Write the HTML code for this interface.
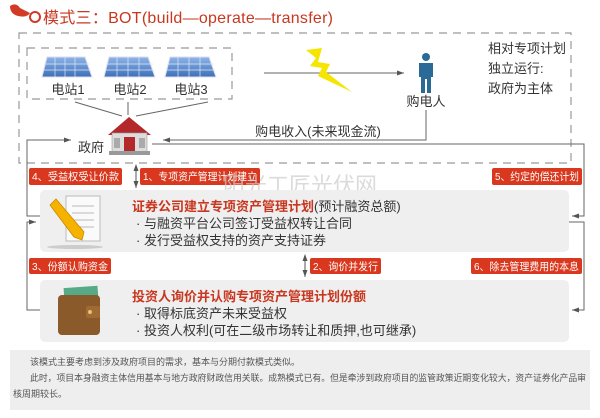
<!DOCTYPE html>
<html><head><meta charset="utf-8"><style>
html,body{margin:0;padding:0;background:#fff}
svg{display:block}
text{font-family:"Liberation Sans","Noto Sans CJK SC",sans-serif}
</style></head><body>
<svg width="600" height="418" viewBox="0 0 600 418" xmlns="http://www.w3.org/2000/svg">
<defs>
<marker id="a" markerWidth="8" markerHeight="8" refX="7" refY="4" orient="auto"><path d="M0,1.5 L7,4 L0,6.5z" fill="#555"/></marker>
<marker id="s" markerWidth="8" markerHeight="8" refX="1" refY="4" orient="auto"><path d="M7,1.5 L0,4 L7,6.5z" fill="#555"/></marker>
<linearGradient id="pv" x1="0" y1="0" x2="0" y2="1"><stop offset="0" stop-color="#8fb5e8"/><stop offset="1" stop-color="#3d6fb8"/></linearGradient>
</defs>
<rect width="600" height="418" fill="#fff"/>
<path d="M10,6 q6,-4 10,2 l10,5 q-3,5 -12,3 q-8,-2 -8,-10z" fill="#d33a25"/>
<circle cx="35" cy="17" r="5" fill="none" stroke="#d33a25" stroke-width="2"/>
<text x="43" y="23" font-size="16" fill="#c8371f" textLength="290">模式三：BOT(build—operate—transfer)</text>
<rect x="19" y="33" width="552" height="130" fill="none" stroke="#999" stroke-width="1.2" stroke-dasharray="8,6"/>
<rect x="27" y="48" width="205" height="51" fill="none" stroke="#999" stroke-width="1.2" stroke-dasharray="8,6"/>
<g>
<polygon points="47,57 85,57 92,77 42,77" fill="url(#pv)" stroke="#dde" stroke-width="1"/>
<polygon points="109,57 148,57 155,77 104,77" fill="url(#pv)" stroke="#dde" stroke-width="1"/>
<polygon points="170,57 209,57 216,77 165,77" fill="url(#pv)" stroke="#dde" stroke-width="1"/>
<path d="M55,57v20M65,57v20M75,57v20M44,64h46M43,70h48M117,57v20M128,57v20M139,57v20M106,64h47M105,70h49M178,57v20M189,57v20M200,57v20M167,64h47M166,70h49" stroke="#dfe9f7" stroke-width="0.7"/>
</g>
<text x="68" y="94" font-size="13" fill="#333" text-anchor="middle">电站1</text>
<text x="130" y="94" font-size="13" fill="#333" text-anchor="middle">电站2</text>
<text x="191" y="94" font-size="13" fill="#333" text-anchor="middle">电站3</text>
<line x1="264" y1="73" x2="404" y2="73" stroke="#666" stroke-width="1" marker-end="url(#a)"/>
<polygon points="306,50 322,48 318,62 330,64 326,72 352,92 318,76 322,68 310,66 316,58" fill="#f5e500"/>
<circle cx="426" cy="57" r="4" fill="#2a6a96"/>
<path d="M419,63h14v14h-2v16h-4v-14h-2v14h-4v-16h-2z" fill="#2a6a96"/>
<text x="426" y="106" font-size="13" fill="#333" text-anchor="middle">购电人</text>
<text x="488" y="53" font-size="13" fill="#333">相对专项计划</text>
<text x="488" y="73" font-size="13" fill="#333">独立运行:</text>
<text x="488" y="93" font-size="13" fill="#333">政府为主体</text>
<line x1="75" y1="102" x2="122" y2="116" stroke="#666"/>
<line x1="128" y1="102" x2="128" y2="115" stroke="#666"/>
<line x1="208" y1="102" x2="136" y2="116" stroke="#666"/>
<polygon points="108,135 129,117 151,135" fill="#b3282a"/>
<rect x="112" y="133" width="35" height="19" fill="#ddd" stroke="#999" stroke-width="0.6"/>
<rect x="124" y="137" width="11" height="15" fill="#b3282a"/>
<rect x="114" y="138" width="6" height="10" fill="#aaa"/><rect x="139" y="138" width="6" height="10" fill="#aaa"/>
<rect x="109" y="151" width="41" height="4" fill="#999"/>
<text x="91" y="152" font-size="13" fill="#333" text-anchor="middle">政府</text>
<polyline points="426,110 426,140 163,140" fill="none" stroke="#666" marker-end="url(#a)"/>
<text x="318" y="136" font-size="13" fill="#333" text-anchor="middle">购电收入(未来现金流)</text>
<polyline points="40,216 27,216 27,140 71,140" fill="none" stroke="#666" marker-end="url(#a)"/>
<polyline points="152,144 584,144 584,216 572,216" fill="none" stroke="#666" marker-end="url(#a)"/>
<polyline points="40,310 27,310 27,222 36,222" fill="none" stroke="#666" marker-end="url(#a)"/>
<polyline points="569,222 584,222 584,310 572,310" fill="none" stroke="#666" marker-end="url(#a)"/>
<line x1="136" y1="165" x2="136" y2="188" stroke="#555" marker-start="url(#s)" marker-end="url(#a)"/>
<line x1="305" y1="255" x2="305" y2="277" stroke="#555" marker-start="url(#s)" marker-end="url(#a)"/>
<g font-size="10.5" fill="#fff">
<rect x="29" y="168" width="93" height="17" rx="2" fill="#d9381e"/><text x="32" y="180" textLength="87" lengthAdjust="spacingAndGlyphs">4、受益权受让价款</text>
<rect x="140" y="168" width="120" height="17" rx="2" fill="#d9381e"/><text x="143" y="180" textLength="114" lengthAdjust="spacingAndGlyphs">1、专项资产管理计划建立</text>
<rect x="492" y="168" width="90" height="17" rx="2" fill="#d9381e"/><text x="495" y="180" textLength="84" lengthAdjust="spacingAndGlyphs">5、约定的偿还计划</text>
<rect x="29" y="258" width="82" height="16" rx="2" fill="#d9381e"/><text x="32" y="270" textLength="76" lengthAdjust="spacingAndGlyphs">3、份额认购资金</text>
<rect x="310" y="258" width="71" height="16" rx="2" fill="#d9381e"/><text x="313" y="270" textLength="65" lengthAdjust="spacingAndGlyphs">2、询价并发行</text>
<rect x="471" y="258" width="111" height="16" rx="2" fill="#d9381e"/><text x="474" y="270" textLength="105" lengthAdjust="spacingAndGlyphs">6、除去管理费用的本息</text>
</g>
<text x="300" y="193" font-size="22" fill="#ccc" fill-opacity="0.7" text-anchor="middle">阳光工匠光伏网</text>
<rect x="40" y="190" width="529" height="62" rx="5" fill="#efefef"/>
<rect x="40" y="280" width="529" height="62" rx="5" fill="#efefef"/>
<rect x="66" y="196" width="34" height="45" fill="#fafafa" stroke="#bbb"/>
<path d="M72,206h22M72,213h22M72,220h22M72,227h22" stroke="#bbb"/>
<polygon points="50,205 56,199 84,232 82,240 74,237" fill="#f5b300" stroke="#c88a00" stroke-width="0.8"/>
<ellipse cx="75" cy="247" rx="28" ry="2" fill="#ccc"/>
<rect x="64" y="287" width="34" height="14" fill="#5a8" transform="rotate(-4 80 294)"/>
<rect x="58" y="295" width="42" height="40" rx="4" fill="#8b5a2b"/>
<rect x="86" y="306" width="14" height="12" rx="2" fill="#a06a35"/>
<circle cx="90" cy="312" r="2" fill="#e8c070"/>
<text x="132" y="211" font-size="13" font-weight="bold" fill="#c8371f">证券公司建立专项资产管理计划<tspan font-weight="normal" fill="#333">(预计融资总额)</tspan></text>
<text x="136" y="228" font-size="13" fill="#333">· 与融资平台公司签订受益权转让合同</text>
<text x="136" y="245" font-size="13" fill="#333">· 发行受益权支持的资产支持证券</text>
<text x="132" y="301" font-size="13" font-weight="bold" fill="#c8371f">投资人询价并认购专项资产管理计划份额</text>
<text x="136" y="318" font-size="13" fill="#333">· 取得标底资产未来受益权</text>
<text x="136" y="335" font-size="13" fill="#333">· 投资人权利(可在二级市场转让和质押,也可继承)</text>
<rect x="10" y="350" width="580" height="60" fill="#eeeeee"/>
<g font-size="9" fill="#555">
<text x="30" y="365">该模式主要考虑到涉及政府项目的需求，基本与分期付款模式类似。</text>
<text x="30" y="381" textLength="556" lengthAdjust="spacingAndGlyphs">此时，项目本身融资主体信用基本与地方政府财政信用关联。成熟模式已有。但是牵涉到政府项目的监管政策近期变化较大，资产证券化产品审</text>
<text x="13" y="397">核周期较长。</text>
</g>
</svg>
</body></html>
